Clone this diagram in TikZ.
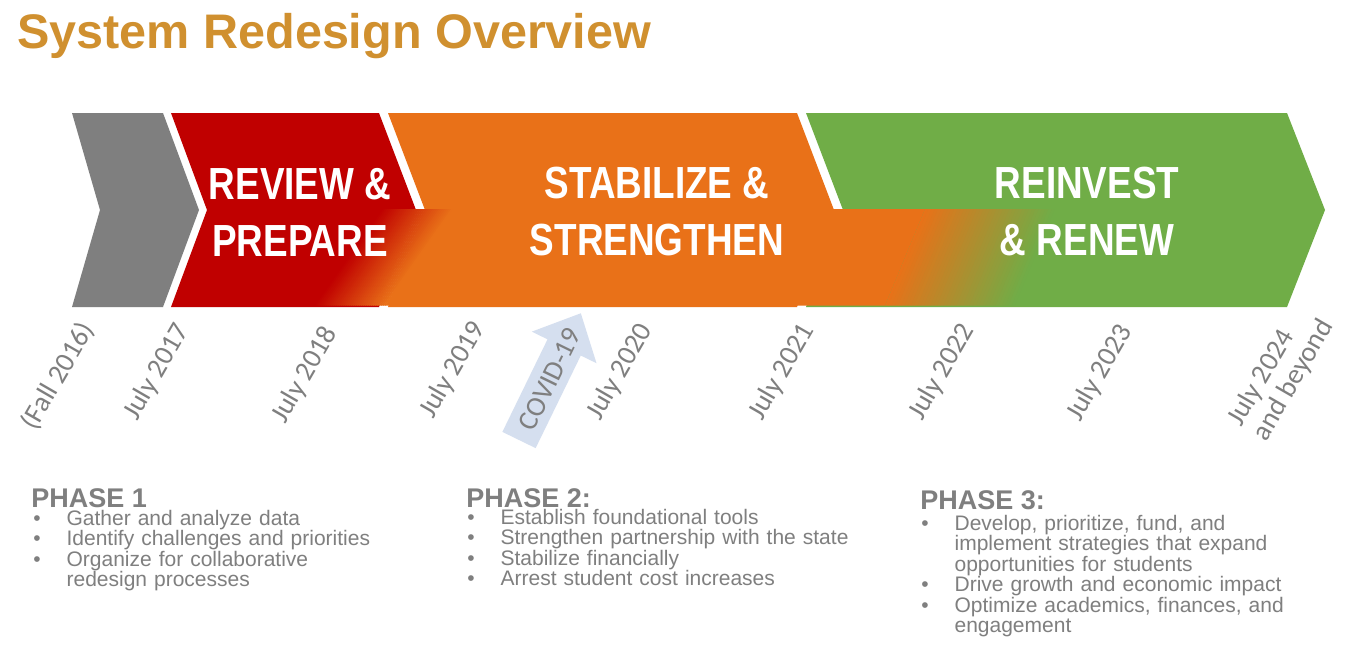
\documentclass[tikz,border=0pt]{standalone}
\usepackage{fontspec}
\setmainfont{Liberation Sans}
\newfontfamily\chevfont{Liberation Sans}[FakeStretch=0.82]
\newfontfamily\datefont{Carlito}
\definecolor{ctitle}{HTML}{D0902F}
\definecolor{cgrey}{HTML}{7F7F7F}
\definecolor{cred}{HTML}{C00000}
\definecolor{corange}{HTML}{E97118}
\definecolor{cgreen}{HTML}{70AD47}
\definecolor{cpale}{HTML}{D5DFEF}
\tikzset{
  title/.style={font=\bfseries\fontsize{36.4}{40}\selectfont, text=ctitle, inner sep=0pt, anchor=base west},
  phasetext/.style={font=\chevfont\bfseries\fontsize{33.75}{42.75}\selectfont, text=white, align=center, inner sep=0pt},
  datelbl/.style={font=\datefont\fontsize{21}{21.75}\selectfont, text=cgrey, rotate=#1, inner sep=0pt},
  datelbl/.default=60,
  phasehead/.style={font=\bfseries\fontsize{20.25}{22}\selectfont, text=cgrey, inner sep=0pt, anchor=base west},
  bullets/.style={font=\fontsize{15.75}{15.4}\selectfont, text=cgrey, inner sep=0pt, anchor=base west, text width=330pt, align=left},
}
\newcommand{\bitem}{\makebox[25pt][l]{\textbullet}}
\newcommand{\bcont}{\hspace*{25pt}}

\begin{document}
\begin{tikzpicture}[x=0.75pt, y=-0.75pt]
  \useasboundingbox (0,0) rectangle (1358,657);
  \fill[white] (0,0) rectangle (1358,657);
  \node[title] (title) at (17,48) {System Redesign Overview};

  % chevrons, white gaps between them
  \fill[cgrey]   (72,113) -- (163,113) -- (199,210) -- (163,307) -- (72,307) -- (100,210) -- cycle;
  \fill[cred]    (171,113) -- (379,113) -- (416,210) -- (379,307) -- (171,307) -- (207,210) -- cycle;
  \fill[corange] (388,113) -- (797,113) -- (834,210) -- (797,307) -- (388,307) -- (425,210) -- cycle;
  \fill[cgreen]  (806,113) -- (1287,113) -- (1325,210) -- (1287,307) -- (806,307) -- (843,210) -- cycle;

  % lower half: red runs into orange
  \fill[cred] (300,209) -- (383,209) -- (315,305.5) -- (300,305.5) -- cycle;
  \foreach \i in {0,...,34} {
    \pgfmathtruncatemacro\p{100-100*(\i+0.5)/35}
    \fill[cred!\p!corange] (315+2*\i,305.5) -- (383+2*\i,209) -- (385.5+2*\i,209) -- (317.5+2*\i,305.5) -- cycle;
  }
  \fill[corange] (385,305.5) -- (453,209) -- (470,209) -- (470,305.5) -- cycle;
  % lower half: orange runs into green
  \fill[corange] (790,209) -- (925,209) -- (885,305.5) -- (790,305.5) -- cycle;
  \foreach \i in {0,...,39} {
    \pgfmathtruncatemacro\p{100-100*(\i+0.5)/40}
    \fill[corange!\p!cgreen] (885+3.25*\i,305.5) -- (925+3.25*\i,209) -- (928.75+3.25*\i,209) -- (888.75+3.25*\i,305.5) -- cycle;
  }
  \fill[cgreen] (1015,305.5) -- (1055,209) -- (1100,209) -- (1100,305.5) -- cycle;

  \node[phasetext] (review) at (300,212) {REVIEW \&\\PREPARE};
  \node[phasetext] (stabilize) at (657,212) {STABILIZE \&\\STRENGTHEN};
  \node[phasetext] (reinvest) at (1087,212) {REINVEST\\\& RENEW};

  % dates under the chevrons
  \foreach \x/\y/\t [count=\k] in {58/376/{(Fall 2016)}, 157/372/{July 2017}, 305/375/{July 2018},
      453/370/{July 2019}, 620/372/{July 2020}, 782/372/{July 2021}, 942/372/{July 2022}, 1100/373/{July 2023}}
    \node[datelbl] (date\k) at (\x,\y) {\t};
  \node[datelbl, align=left] (date9) at (1281,373) {July 2024\\and beyond};

  % covid arrow
  \begin{scope}[shift={(519,440)}, rotate=64]
    \fill[cpale] (0,-18.5) -- (103,-18.5) -- (103,-36) -- (141,0) -- (103,36) -- (103,18.5) -- (0,18.5) -- cycle;
  \end{scope}
  \node[datelbl=64] (covid) at (550,379) {COVID-19};

  % phases
  \node[phasehead] (head1) at (31,507) {PHASE 1};
  \node[bullets] (list1) at (33,525) {\bitem Gather and analyze data\\
    \bitem Identify challenges and priorities\\
    \bitem Organize for collaborative\\
    \bcont redesign processes};
  \node[phasehead] (head2) at (466,507) {PHASE 2:};
  \node[bullets] (list2) at (467,524) {\bitem Establish foundational tools\\
    \bitem Strengthen partnership with the state\\
    \bitem Stabilize financially\\
    \bitem Arrest student cost increases};
  \node[phasehead] (head3) at (920,509) {PHASE 3:};
  \node[bullets] (list3) at (921,530) {\bitem Develop, prioritize, fund, and\\
    \bcont implement strategies that expand\\
    \bcont opportunities for students\\
    \bitem Drive growth and economic impact\\
    \bitem Optimize academics, finances, and\\
    \bcont engagement};
\end{tikzpicture}
\end{document}
